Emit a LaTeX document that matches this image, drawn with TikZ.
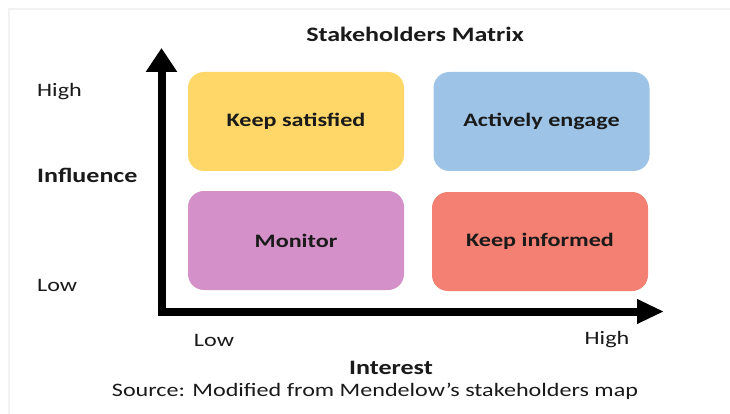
\documentclass[tikz,border=0pt]{standalone}
\usepackage{fontspec}
\setmainfont{Carlito}[FakeStretch=1.27]
\usetikzlibrary{arrows.meta}
\definecolor{ksat}{HTML}{FED768}
\definecolor{aeng}{HTML}{9DC3E6}
\definecolor{mon}{HTML}{D490C8}
\definecolor{kinf}{HTML}{F38072}
\definecolor{txt}{HTML}{1A1A1A}
\definecolor{frame}{HTML}{F2F2F2}
\tikzset{
  quad/.style={rounded corners=16pt, minimum width=216pt, minimum height=99pt, inner sep=0pt,
    font=\fontsize{19}{22}\selectfont\bfseries, text=txt},
  lbl/.style={font=\fontsize{19}{22}\selectfont, text=txt, inner sep=0pt},
  blbl/.style={lbl, font=\fontsize{20.5}{24}\selectfont\bfseries},
  axis/.style={line width=8pt, black}
}
\begin{document}
\begin{tikzpicture}[x=1pt,y=-1pt]
\useasboundingbox (0,0) rectangle (730,414);
\fill[white] (0,0) rectangle (730,414);
\draw[frame, line width=2.5pt] (9,414) -- (9,9) -- (730,9);
% title
\node[blbl] (title) at (415,34) {Stakeholders Matrix};
% quadrants
\node[quad, fill=ksat] (ks) at (296,121.5) {Keep satisfied};
\node[quad, fill=aeng] (ae) at (541.5,121.5) {Actively engage};
\node[quad, fill=mon] (mo) at (296,240.5) {Monitor};
\node[quad, fill=kinf] (ki) at (540,241.5) {Keep informed};
% axes
\coordinate (origin) at (161.5,311.5);
\coordinate (ytip) at (161.5,48);
\coordinate (xtip) at (664,311.5);
\draw[axis, -{Triangle[width=30pt,length=24pt]}] ([yshift=4pt]origin) -- (ytip);
\draw[axis, -{Triangle[width=23pt,length=27pt]}] ([xshift=-4pt]origin) -- (xtip);
% labels
\node[lbl, anchor=west] (yhigh) at (37,92) {High};
\node[blbl, anchor=west] (yname) at (37,175) {Influence};
\node[lbl, anchor=west] (ylow) at (37,285) {Low};
\node[lbl] (xlow) at (214,340) {Low};
\node[lbl] (xhigh) at (607,340) {High};
\node[blbl] (xname) at (391,368) {Interest};
\node[lbl] (source) at (375,391) {Source: Modified from Mendelow’s stakeholders map};
\end{tikzpicture}
\end{document}
